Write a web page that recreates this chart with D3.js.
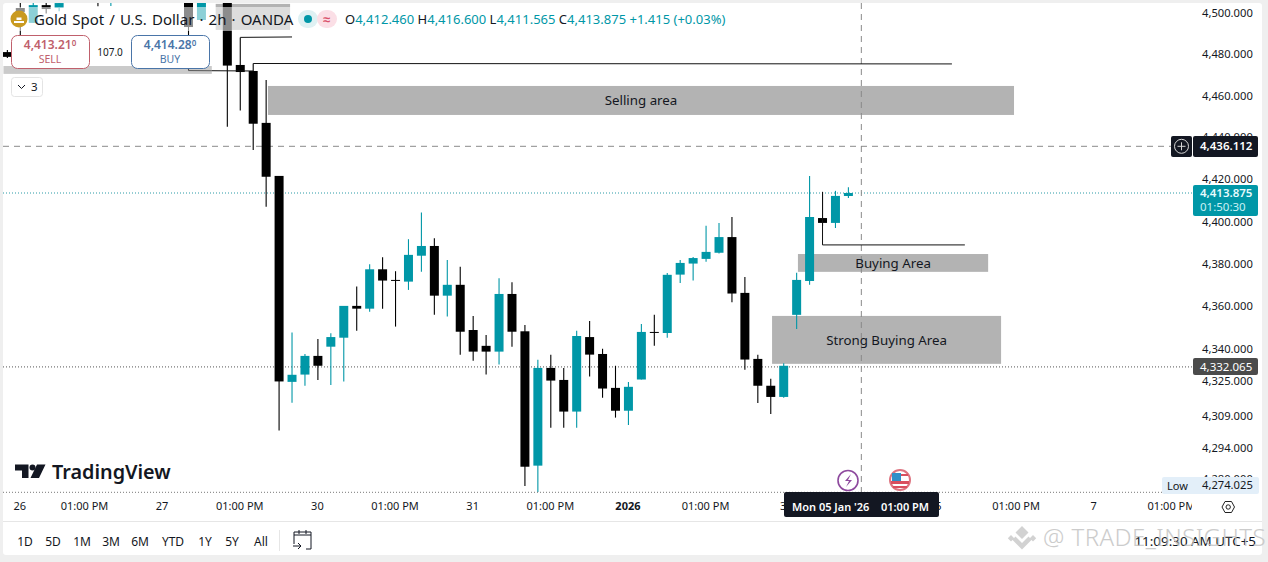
<!DOCTYPE html>
<html>
<head>
<meta charset="utf-8">
<title>Gold Spot / U.S. Dollar</title>
<script src="https://cdn.jsdelivr.net/npm/d3@7"></script>
<style>
  html, body { margin: 0; padding: 0; background: #f0f0f0; overflow: hidden; }
  svg { display: block; }
  text { font-family: "Noto Sans", sans-serif; }
</style>
</head>
<body>
<div id="chart"></div>
<script>
// bars that show inside the window (the rest sit above the top of the chart)
const barIndex = [-1, 0, 1, 2, 3, 6, 7, 13, 14, 16, 17, 18, 19, 20, 21, 22, 23, 24, 25, 26, 27, 28, 29, 30, 31, 32, 33, 34, 35, 36, 37, 38, 39, 40, 41, 42, 43, 44, 45, 46, 47, 48, 49, 50, 51, 52, 53, 54, 55, 56, 57, 58, 59, 60, 61, 62, 63, 64];
const opens = [4481.3, 4502.6, 4495.4, 4504.0, 4502.6, 4515, 4510, 4512, 4496.8, 4520, 4475.1, 4472.2, 4447.3, 4422.0, 4325.1, 4328.5, 4337.2, 4341.5, 4345.7, 4360.6, 4359.3, 4377.8, 4372.8, 4372.0, 4384.2, 4388.8, 4365.4, 4370.5, 4349.3, 4341.9, 4339.2, 4366.2, 4348.7, 4286.3, 4331.6, 4326.0, 4311.3, 4346.0, 4338.1, 4322.3, 4311.7, 4326.2, 4348.4, 4347.9, 4375.3, 4380.5, 4382.7, 4385.6, 4393.0, 4366.7, 4335.8, 4323.3, 4318.1, 4356.4, 4372.3, 4402.0, 4399.7, 4412.46];
const highs = [4482.3, 4508.0, 4510.0, 4509.0, 4509.0, 4518, 4522, 4516, 4516, 4525, 4488.4, 4475.8, 4467.9, 4422.0, 4348.1, 4338.1, 4345.1, 4347.8, 4360.6, 4369.7, 4380.2, 4383.5, 4376.9, 4392.0, 4404.6, 4392.4, 4382.2, 4379.0, 4355.9, 4347.0, 4373.6, 4371.7, 4351.7, 4335.4, 4337.7, 4331.6, 4348.9, 4353.5, 4340.5, 4332.6, 4325.1, 4352.1, 4356.4, 4376.1, 4382.2, 4383.6, 4398.3, 4399.7, 4402.5, 4374.2, 4337.7, 4326.5, 4333.8, 4376.2, 4422.0, 4414.4, 4414.9, 4416.6];
const lows = [4478.4, 4489.6, 4495.4, 4500.0, 4501.0, 4503.4, 4503.6, 4472.4, 4496.8, 4445.5, 4453.2, 4434.3, 4407.4, 4302.5, 4315.4, 4323.3, 4326.0, 4323.7, 4325.3, 4348.9, 4357.9, 4359.3, 4350.9, 4368.1, 4376.7, 4356.4, 4355.6, 4337.7, 4334.9, 4328.5, 4333.2, 4341.5, 4276.9, 4274.0, 4303.8, 4303.8, 4303.8, 4327.6, 4317.7, 4308.5, 4305.1, 4326.2, 4342.0, 4345.7, 4371.4, 4372.5, 4381.4, 4385.3, 4362.3, 4330.7, 4315.3, 4310.2, 4317.7, 4349.8, 4370.5, 4398.3, 4397.3, 4411.565];
const closes = [4479.0, 4500.7, 4504.0, 4502.1, 4505.0, 4510, 4520, 4493.4, 4512, 4474.8, 4471.7, 4446.9, 4421.6, 4325.3, 4328.4, 4337.2, 4332.6, 4346.0, 4360.6, 4359.3, 4377.8, 4372.5, 4372.5, 4384.6, 4388.8, 4365.4, 4370.5, 4348.5, 4339.2, 4339.2, 4366.2, 4348.5, 4285.8, 4331.6, 4325.7, 4311.3, 4346.5, 4337.8, 4322.0, 4311.7, 4322.8, 4348.4, 4348.1, 4375.2, 4380.8, 4383.1, 4386.0, 4393.0, 4366.4, 4335.5, 4323.3, 4318.1, 4332.6, 4372.8, 4402.5, 4399.7, 4412.5, 4413.875];

// axes
const priceTicks = [4500, 4480, 4460, 4440, 4420, 4400, 4380, 4360, 4340, 4325, 4309, 4294, 4280];
const timeTickIndex = [0, 5, 11, 17, 23, 29, 35, 41, 47, 53, 59, 65, 71, 77, 83, 89];
const timeTickLabels = ["26", "01:00 PM", "27", "01:00 PM", "30", "01:00 PM", "31", "01:00 PM", "2026", "01:00 PM", "3", "01:00 PM", "5", "01:00 PM", "7", "01:00 PM"];

// drawn zones, in bar index and price
const zoneLabels = ["Selling area", "Buying Area", "Strong Buying Area", "", ""];
const zoneStart = [19.14, 60.1, 58.1, 15.1, -1.3];
const zoneEnd = [76.8, 74.8, 75.8, 20.85, 14.8];
const zoneTop = [4465.0, 4385.0, 4355.9, 4504.6, 4474.6];
const zoneBottom = [4451.1, 4376.6, 4333.5, 4492.0, 4470.8];

// drawn trend lines, each a list of [bar index, price]
const trendLines = [
  [[17, 4488.4], [21, 4488.6]],
  [[18, 4475.8], [72, 4475.6]],
  [[13, 4472.4], [18, 4472.2]],
  [[62, 4414.4], [62, 4389.3], [73, 4389.3]]
];

// price lines
const crosshairPrice = 4436.112;
const lastPrice = 4413.875;
const prevClosePrice = 4332.065;
const lowPrice = 4274.025;
const crosshairBar = 65;

const rangeButtons = ["1D", "5D", "1M", "3M", "6M", "YTD", "1Y", "5Y", "All"];
const rangeButtonX = [25, 53, 82, 111, 140, 173, 205, 232, 261];
const ohlcLabels = ["O", "H", "L", "C"];
const ohlcValues = ["4,412.460", "4,416.600", "4,411.565", "4,413.875"];

const TEAL = "#0097a7";
const DARK = "#131722";
const width = 1268, height = 562;
const chartRight = 1192, chartBottom = 492;

const svg = d3.select("#chart").append("svg")
  .attr("width", width)
  .attr("height", height);

// white panel inside the grey frame
svg.append("rect").attr("width", width).attr("height", height).attr("fill", "#efefef");
svg.append("rect").attr("x", 3).attr("y", 3).attr("width", 1259).attr("height", 552).attr("rx", 3).attr("fill", "#fff");

svg.append("defs").append("clipPath").attr("id", "plot")
  .append("rect").attr("x", 3).attr("y", 3).attr("width", chartRight - 3).attr("height", chartBottom - 3);
svg.select("defs").append("clipPath").attr("id", "timeclip")
  .append("rect").attr("x", 3).attr("y", chartBottom).attr("width", chartRight - 3).attr("height", 30);

let x = d3.scaleLinear().domain([0, 64]).range([20.3, 848.4]);
let y = d3.scaleLog().domain([4436.112, 4274.025]).range([146.3, 492.3]);

const plot = svg.append("g").attr("clip-path", "url(#plot)");

// zones go under the candles
plot.selectAll("rect.zone")
  .data(zoneLabels)
  .enter()
  .append("rect")
    .attr("class", "zone")
    .attr("x", (d, i) => x(zoneStart[i]))
    .attr("y", (d, i) => y(zoneTop[i]))
    .attr("width", (d, i) => x(zoneEnd[i]) - x(zoneStart[i]))
    .attr("height", (d, i) => y(zoneBottom[i]) - y(zoneTop[i]))
    .attr("fill", "#b3b3b3");

// price lines
function priceLine(price, x1, color, dash) {
  plot.append("line")
    .attr("x1", 3).attr("x2", x1)
    .attr("y1", y(price)).attr("y2", y(price))
    .attr("stroke", color)
    .attr("stroke-width", 1)
    .attr("stroke-dasharray", dash);
}
priceLine(lastPrice, chartRight, "#2a9aa6", "1 2");
priceLine(prevClosePrice, chartRight, "#555", "1 2");
priceLine(crosshairPrice, 1171, "#8a8a8a", "6 5");

plot.append("line")
  .attr("x1", x(crosshairBar)).attr("x2", x(crosshairBar))
  .attr("y1", 3).attr("y2", chartBottom)
  .attr("stroke", "#8a8a8a")
  .attr("stroke-dasharray", "6 5");

// candles
const candle = plot.selectAll("g.candle")
  .data(barIndex)
  .enter()
  .append("g")
    .attr("class", "candle")
    .attr("fill", (d, i) => closes[i] >= opens[i] ? TEAL : "#000")
    .attr("stroke", (d, i) => closes[i] >= opens[i] ? TEAL : "#000");

candle.append("line")
  .attr("x1", d => x(d)).attr("x2", d => x(d))
  .attr("y1", (d, i) => y(highs[i]))
  .attr("y2", (d, i) => y(lows[i]))
  .attr("stroke-width", 1.1);

candle.append("rect")
  .attr("x", d => x(d) - 4.5)
  .attr("width", 9)
  .attr("y", (d, i) => y(Math.max(opens[i], closes[i])))
  .attr("height", (d, i) => Math.max(1, y(Math.min(opens[i], closes[i])) - y(Math.max(opens[i], closes[i]))))
  .attr("stroke", "none");

// trend lines
const lineGen = d3.line().x(d => x(d[0])).y(d => y(d[1]));
plot.selectAll("path.trend")
  .data(trendLines)
  .enter()
  .append("path")
    .attr("class", "trend")
    .attr("d", lineGen)
    .attr("fill", "none")
    .attr("stroke", "#111")
    .attr("stroke-width", 1);

// zone captions
plot.selectAll("text.zone-label")
  .data(zoneLabels.filter(d => d))
  .enter()
  .append("text")
    .attr("class", "zone-label")
    .attr("x", (d, i) => (x(zoneStart[i]) + x(zoneEnd[i])) / 2)
    .attr("y", (d, i) => (y(zoneTop[i]) + y(zoneBottom[i])) / 2 + 5)
    .attr("text-anchor", "middle")
    .attr("font-size", 13.3)
    .attr("fill", DARK)
    .text(d => d);

// bottom dotted edge of the chart
svg.append("line")
  .attr("x1", 3).attr("x2", 1162)
  .attr("y1", chartBottom + .3).attr("y2", chartBottom + .3)
  .attr("stroke", "#777").attr("stroke-dasharray", "1 2");
svg.append("line")
  .attr("x1", 3).attr("x2", 1262)
  .attr("y1", 521.5).attr("y2", 521.5)
  .attr("stroke", "#e6e6e6");

// price axis
let yAxis = d3.axisRight(y)
  .tickValues(priceTicks)
  .tickFormat(d3.format(",.3f"))
  .tickSize(0)
  .tickPadding(0);
let yAxisG = svg.append("g")
  .attr("transform", "translate(1202,-0.8)")
  .call(yAxis);
yAxisG.select(".domain").remove();
yAxisG.selectAll("text")
  .attr("font-family", '"Noto Sans", sans-serif')
  .attr("font-size", 11.2)
  .attr("fill", DARK);

// time axis
let xAxis = d3.axisBottom(x)
  .tickValues(timeTickIndex)
  .tickFormat((d, i) => timeTickLabels[i])
  .tickSize(0)
  .tickPadding(0);
let xAxisG = svg.append("g")
  .attr("clip-path", "url(#timeclip)")
  .append("g")
  .attr("transform", "translate(-1,502)")
  .call(xAxis);
xAxisG.select(".domain").remove();
xAxisG.selectAll("text")
  .attr("font-family", '"Noto Sans", sans-serif')
  .attr("font-size", 11)
  .attr("fill", DARK)
  .attr("font-weight", d => d === 47 ? 700 : 400);

// axis labels
function priceBox(px, py, w, h, fill) {
  return svg.append("rect").attr("x", px).attr("y", py).attr("width", w).attr("height", h).attr("rx", 2).attr("fill", fill);
}
function label(px, py, str, size, fill, anchor, weight) {
  return svg.append("text")
    .attr("x", px).attr("y", py)
    .attr("font-size", size)
    .attr("fill", fill)
    .attr("text-anchor", anchor || "start")
    .attr("font-weight", weight || 400)
    .text(str);
}

// crosshair price
priceBox(1171, 136, 21, 21, DARK);
priceBox(1193, 136, 65, 21, DARK);
svg.append("circle").attr("cx", 1181.5).attr("cy", y(crosshairPrice)).attr("r", 7).attr("fill", "none").attr("stroke", "#d8d8d8");
svg.append("path").attr("d", "M1177.5 146.3h8M1181.5 142.3v8").attr("stroke", "#d8d8d8");
label(1200, 150, "4,436.112", 11.5, "#fff", "start", 600);

// last price
priceBox(1193, 185, 65, 31, TEAL);
label(1200, 197, "4,413.875", 11.5, "#e8fbfd", "start", 600);
label(1200, 211, "01:50:30", 11.5, "#c9f1f5");

// previous close
priceBox(1193, 358, 65, 17, "#4b4b4b");
label(1200, 371, "4,332.065", 11.5, "#fff");

// session low
priceBox(1162, 477, 97, 17, "#e3eff9");
label(1167, 490, "Low", 11, DARK);
label(1202, 489, "4,274.025", 11.2, DARK);

// crosshair time
priceBox(784, 492, 155, 25, DARK);
label(792, 511, "Mon 05 Jan '26", 11, "#fff", "start", 600);
label(881, 511, "01:00 PM", 11, "#fff", "start", 600);

// event markers
svg.append("circle").attr("cx", 848).attr("cy", 480.5).attr("r", 10).attr("fill", "#fff").attr("stroke", "#8e4a9e").attr("stroke-width", 1.6);
svg.append("path").attr("d", "M851 474l-6 7h4l-3 6 6-7h-4z").attr("fill", "#8e4a9e");
svg.append("circle").attr("cx", 900).attr("cy", 480).attr("r", 10).attr("fill", "#fff").attr("stroke", "#dd7480").attr("stroke-width", 2);
svg.append("path").attr("d", "M892 474h16v2h-16zM891 481h18v3h-18zM893 486h14v2h-14z").attr("fill", "#d9505f");
svg.append("rect").attr("x", 892).attr("y", 473).attr("width", 9).attr("height", 8).attr("fill", "#2f8fc9");

// settings hexagon
svg.append("path").attr("d", "M1222 507l3-5.5h6.5l3 5.5-3 5.5h-6.5z").attr("fill", "none").attr("stroke", "#222");
svg.append("circle").attr("cx", 1228.2).attr("cy", 507).attr("r", 2.2).attr("fill", "none").attr("stroke", "#222");

// TradingView logo
svg.append("path").attr("d", "M15 464.5h13.5v13.5h-6.5v-7.5h-7zM37 464.5h8.5l-6.5 13.5h-8.5z").attr("fill", DARK);
svg.append("circle").attr("cx", 32.5).attr("cy", 467.5).attr("r", 3).attr("fill", DARK);
svg.append("text")
  .attr("x", 52).attr("y", 479)
  .attr("font-family", "Inter")
  .attr("font-weight", 600)
  .attr("font-size", 19.8)
  .attr("fill", DARK)
  .text("TradingView");

// legend: the translucent backing fades whatever sits under it
svg.append("rect").attr("x", 6).attr("y", 7).attr("width", 286).attr("height", 24).attr("fill", "#fff").attr("opacity", .55);
svg.append("rect").attr("x", 3).attr("y", 66).attr("width", 209).attr("height", 9).attr("fill", "#fff").attr("opacity", .3);
svg.append("circle").attr("cx", 19).attr("cy", 19).attr("r", 8.5).attr("fill", "#c99a20");
svg.append("path").attr("d", "M14 21h10v2h-10zM16.5 17.5h5v2.5h-5z").attr("fill", "#fff");
label(34, 24.5, "Gold Spot / U.S. Dollar · 2h · OANDA", 15, DARK).attr("word-spacing", 1.2);

svg.append("rect").attr("x", 298).attr("y", 10).attr("width", 20).attr("height", 18).attr("rx", 9).attr("fill", "#dff1f3");
svg.append("rect").attr("x", 317).attr("y", 10).attr("width", 20).attr("height", 18).attr("rx", 9).attr("fill", "#fbdfe6");
svg.append("circle").attr("cx", 308).attr("cy", 19).attr("r", 4).attr("fill", TEAL);
label(326.5, 24, "≈", 13, "#d9506a", "middle", 700);

const legendText = svg.append("text").attr("x", 345).attr("y", 24).attr("font-size", 13);
ohlcLabels.forEach((d, i) => {
  legendText.append("tspan").attr("fill", DARK).text(d);
  legendText.append("tspan").attr("fill", TEAL).text(ohlcValues[i] + " ");
});
legendText.append("tspan").attr("fill", TEAL).text("+1.415 (+0.03%)");

// sell and buy buttons
function tradeButton(bx, color, price, tail, name) {
  svg.append("rect").attr("x", bx + .5).attr("y", 35.5).attr("width", 78).attr("height", 33).attr("rx", 6).attr("fill", "#fff").attr("stroke", color);
  const t = svg.append("text").attr("x", bx + 39).attr("y", 49).attr("text-anchor", "middle").attr("font-size", 12).attr("font-weight", 600).attr("fill", color);
  t.append("tspan").text(price);
  t.append("tspan").attr("font-size", 8).attr("dy", -3).text(tail);
  label(bx + 39, 63, name, 10.5, color, "middle");
}
tradeButton(11, "#c0606c", "4,413.21", "0", "SELL");
tradeButton(131, "#4a75a8", "4,414.28", "0", "BUY");
label(110, 56, "107.0", 10, DARK, "middle");

// collapsed indicators
svg.append("rect").attr("x", 11.5).attr("y", 77.5).attr("width", 31).attr("height", 19).attr("rx", 3).attr("fill", "#fff").attr("stroke", "#e4e4e4");
svg.append("path").attr("d", "M18 85l3.5 3.5 3.5-3.5").attr("fill", "none").attr("stroke", DARK);
label(31, 91, "3", 11.5, DARK);

// range toolbar
svg.selectAll("text.range")
  .data(rangeButtons)
  .enter()
  .append("text")
    .attr("class", "range")
    .attr("x", (d, i) => rangeButtonX[i])
    .attr("y", 545.5)
    .attr("text-anchor", "middle")
    .attr("font-size", 12)
    .attr("fill", DARK)
    .text(d => d);
svg.append("line").attr("x1", 279.5).attr("x2", 279.5).attr("y1", 530).attr("y2", 551).attr("stroke", "#e6e6e6");
svg.append("path")
  .attr("d", "M294 544v-12h17v17h-5M294 535h17M299 530v4M306 530v4M293 546h8M298 543l3 3-3 3")
  .attr("fill", "none").attr("stroke", DARK);

// clock, with the image watermark on top of it
label(1256, 545.5, "11:09:30 AM UTC+5", 13.4, DARK, "end");

svg.append("path").attr("d", "M1022 526l6.5 6.5-6.5 6.5-6.5-6.5zM1011 535l3.2 3.2-3.2 3.2-3.2-3.2zM1033 535l3.2 3.2-3.2 3.2-3.2-3.2zM1022 543l6.5-6.5 3.2 3.2-9.7 9.7-9.7-9.7 3.2-3.2z")
  .attr("fill", "#d2d2d2");
svg.append("text")
  .attr("x", 1043).attr("y", 546)
  .attr("font-size", 24)
  .attr("font-weight", 300)
  .attr("letter-spacing", .45)
  .attr("fill", "#c4c4c4")
  .attr("opacity", .85)
  .text("@ TRADE_INSIGHTS");
</script>
</body>
</html>
